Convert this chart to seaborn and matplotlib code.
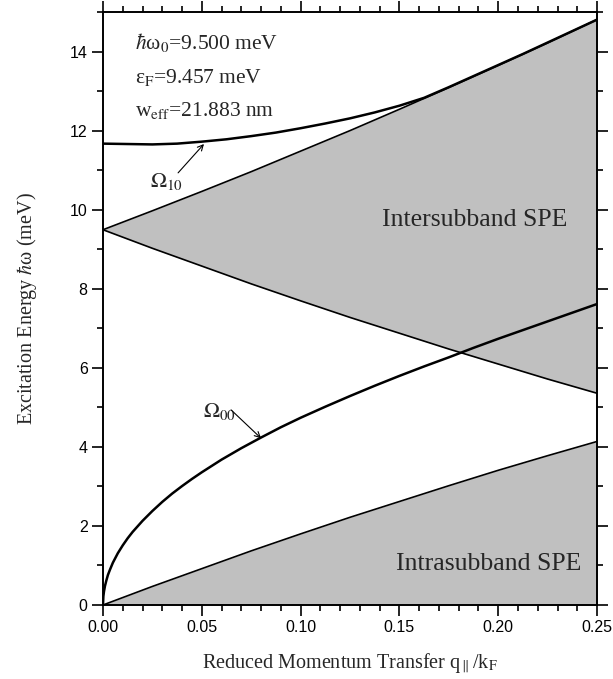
import numpy as np
import pandas
import seaborn
import matplotlib
matplotlib.use("Agg")
import matplotlib.pyplot as plt
from matplotlib.ticker import MultipleLocator

# reduced momentum transfer q/kF, sampled along the SPE boundaries
q_spe = [0.0, 0.025, 0.05, 0.075, 0.10, 0.125, 0.15, 0.175, 0.20, 0.225, 0.25]
intra_upper = [0.0, 0.47, 0.92, 1.37, 1.80, 2.22, 2.62, 3.02, 3.41, 3.78, 4.14]
inter_upper = [9.50, 9.98, 10.47, 10.97, 11.49, 12.01, 12.55, 13.10, 13.66, 14.23, 14.82]
inter_lower = [9.50, 9.03, 8.58, 8.13, 7.70, 7.28, 6.88, 6.48, 6.10, 5.72, 5.36]

# intersubband plasmon Omega_10
q_10 = [0.0, 0.0125, 0.025, 0.0375, 0.05, 0.0625, 0.075, 0.0875, 0.10, 0.1125,
        0.125, 0.1375, 0.15, 0.1625, 0.175, 0.1875, 0.20, 0.2125, 0.225, 0.2375, 0.25]
e_10 = [11.68, 11.67, 11.66, 11.68, 11.73, 11.79, 11.87, 11.96, 12.07, 12.19,
        12.32, 12.47, 12.64, 12.84, 13.11, 13.39, 13.67, 13.95, 14.24, 14.53, 14.82]

# intrasubband plasmon Omega_00
q_00 = [0.0, 0.0002, 0.0005, 0.001, 0.0017, 0.0025, 0.0035, 0.005, 0.0075, 0.01,
        0.0125, 0.015, 0.0175, 0.02, 0.025, 0.03, 0.035, 0.04, 0.045, 0.05,
        0.055, 0.06, 0.07, 0.08, 0.09, 0.10, 0.1125, 0.125, 0.1375, 0.15,
        0.1625, 0.175, 0.1875, 0.20, 0.2125, 0.225, 0.2375, 0.25]
e_00 = [0.0, 0.22, 0.34, 0.48, 0.62, 0.76, 0.89, 1.07, 1.31, 1.51,
        1.69, 1.85, 1.99, 2.13, 2.38, 2.61, 2.82, 3.01, 3.19, 3.36,
        3.52, 3.68, 3.97, 4.24, 4.50, 4.74, 5.02, 5.29, 5.55, 5.80,
        6.04, 6.27, 6.51, 6.74, 6.96, 7.18, 7.40, 7.62]

params_txt = [r"$\hbar$ω$_0$=9.500 meV", r"ε$_{\rm F}$=9.457 meV", r"w$_{\rm eff}$=21.883 nm"]

SERIF = ["Liberation Serif", "DejaVu Serif"]
SANS = ["Liberation Sans", "DejaVu Sans"]


def main():
    seaborn.set_theme(style="ticks")
    plt.rcParams["font.family"] = SANS
    plt.rcParams["mathtext.fontset"] = "stix"

    spe = pandas.DataFrame({"q": q_spe, "intra": intra_upper,
                            "up": inter_upper, "lo": inter_lower})
    w10 = pandas.DataFrame({"q": q_10, "E": e_10})
    w00 = pandas.DataFrame({"q": q_00, "E": e_00})

    fig = plt.figure(figsize=(6.13, 6.79), dpi=100)
    ax = fig.add_axes([0.168, 0.109, 0.806, 0.8726])

    gray = "#c0c0c0"
    ax.fill_between(spe["q"], 0, spe["intra"], color=gray, lw=0, zorder=1)
    ax.fill_between(spe["q"], spe["lo"], spe["up"], color=gray, lw=0, zorder=1)
    for col in ["intra", "up", "lo"]:
        seaborn.lineplot(data=spe, x="q", y=col, ax=ax, color="black", lw=1.2, zorder=3)
    seaborn.lineplot(data=w10, x="q", y="E", ax=ax, color="black", lw=1.8, zorder=4)
    seaborn.lineplot(data=w00, x="q", y="E", ax=ax, color="black", lw=1.8, zorder=4)

    ax.set_xlim(0, 0.25)
    ax.set_ylim(0, 15)
    ax.xaxis.set_major_locator(MultipleLocator(0.05))
    ax.xaxis.set_minor_locator(MultipleLocator(0.01))
    ax.yaxis.set_major_locator(MultipleLocator(2))
    ax.yaxis.set_minor_locator(MultipleLocator(1))
    ax.xaxis.set_major_formatter(matplotlib.ticker.FormatStrFormatter("%.2f"))
    ax.tick_params(which="both", direction="out", top=True, right=True,
                   color="black", width=1.2, labelsize=11.5, labelcolor="black")
    ax.tick_params(which="major", length=8, pad=3)
    ax.tick_params(which="minor", length=4.5)
    for s in ax.spines.values():
        s.set_linewidth(1.4)
        s.set_color("black")
        s.set_zorder(5)

    ax.set_xlabel(r"Reduced Momentum Transfer q$_{\parallel}$/k$_{\rm F}$",
                  family=SERIF, fontsize=14.5, labelpad=12)
    ax.set_ylabel(r"Excitation Energy $\hbar$ω (meV)",
                  family=SERIF, fontsize=14.5, labelpad=22)

    for txt, yb in zip(params_txt, [14.07, 13.21, 12.38]):
        ax.text(0.0162, yb, txt, family=SERIF, fontsize=15.5, va="baseline", ha="left")

    ax.text(0.188, 9.6, "Intersubband SPE", family=SERIF, fontsize=18.5,
            ha="center", va="baseline")
    ax.text(0.195, 0.89, "Intrasubband SPE", family=SERIF, fontsize=18.5,
            ha="center", va="baseline")

    arr = dict(arrowstyle="->", lw=0.8, color="black", mutation_scale=10,
               shrinkA=0, shrinkB=0)
    ax.text(0.0238, 10.59, r"$\Omega_{10}$", fontsize=15.5, va="baseline", ha="left")
    ax.annotate("", xy=(0.0511, 11.67), xytext=(0.038, 10.94), arrowprops=arr)
    ax.text(0.0504, 4.75, r"$\Omega_{00}$", fontsize=15.5, va="baseline", ha="left")
    ax.annotate("", xy=(0.080, 4.22), xytext=(0.0648, 4.94), arrowprops=arr)

    fig.savefig("out.png", dpi=100)
    plt.close("all")


if __name__ == '__main__':
    main()
